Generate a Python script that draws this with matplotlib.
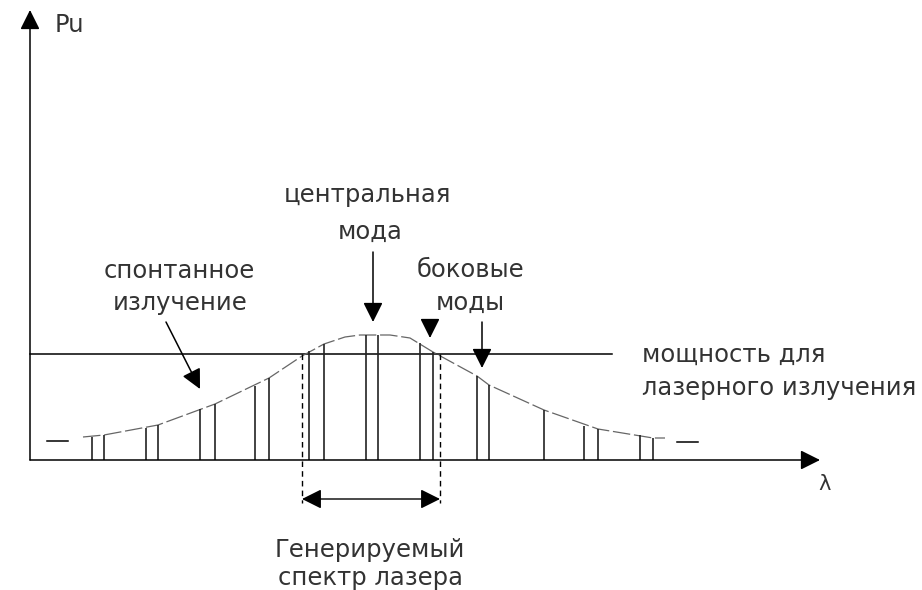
import matplotlib.pyplot as plt

# mode lines: wavelength position and height (threshold line is at 106)
mode_lam = [62, 74, 116, 128, 170, 185, 225, 239, 279, 294, 336, 348,
            390, 403, 447, 459, 514, 554, 568, 610, 623]
mode_p = [23, 25, 32, 35, 51, 56, 74, 82, 109, 116, 125, 125,
          117, 108, 84, 75, 50, 34, 31, 25, 22]

# spontaneous emission envelope
env_lam = [53, 74, 128, 185, 239, 272, 294, 315, 330, 360, 380, 403,
           447, 459, 514, 568, 623, 635]
env_p = [23, 25, 35, 56, 82, 104, 116, 123, 125, 125, 122, 108,
         84, 75, 50, 31, 22, 22]

threshold = 106
gen_band = [272, 410]

plt.rcParams['font.family'] = ['DejaVu Sans']
fs = 17.5
tc = '#333'

fig = plt.figure(figsize=(9.22, 5.9), dpi=100)
ax = fig.add_axes([0, 0, 1, 1])
ax.set_xlim(-30, 892)
ax.set_ylim(-130, 460)
ax.axis('off')

head = '-|>,head_length=0.6,head_width=0.3'
arr = dict(arrowstyle=head, mutation_scale=20, color='black', lw=1.1,
           shrinkA=0, shrinkB=0)

# axes with arrows
ax.annotate('', xy=(0, 450), xytext=(0, 0), arrowprops=arr)
ax.annotate('', xy=(790, 0), xytext=(0, 0), arrowprops=arr)
ax.text(25, 435, 'Pu', fontsize=fs, color=tc, va='center')
ax.text(795, -24, 'λ', fontsize=15, color=tc, ha='center', va='center')

# lasing threshold
ax.plot([0, 582], [threshold, threshold], color='black', lw=1.1)

# envelope and modes
ax.plot(env_lam, env_p, color='#666', lw=0.9, ls=(0, (14, 3)))
ax.vlines(mode_lam, 0, mode_p, color='#222', lw=1.2)
ax.plot([17, 38], [19, 19], color='black', lw=1.1)
ax.plot([647, 668], [18, 18], color='black', lw=1.1)

# generated spectrum band
for x in gen_band:
    ax.plot([x, x], [threshold, -43], color='black', lw=1, ls=(0, (4, 3)))
ax.annotate('', xy=(gen_band[0], -39), xytext=(gen_band[1], -39),
            arrowprops=dict(arrowstyle='<|-|>,head_length=0.6,head_width=0.3',
                            mutation_scale=20, color='black', lw=1,
                            shrinkA=0, shrinkB=0))
ax.text(340, -90, 'Генерируемый', fontsize=fs, color=tc, ha='center', va='center')
ax.text(340, -118, 'спектр лазера', fontsize=fs, color=tc, ha='center', va='center')

# labels with pointers
ax.text(149, 189, 'спонтанное', fontsize=fs, color=tc, ha='center', va='center')
ax.text(150, 157, 'излучение', fontsize=fs, color=tc, ha='center', va='center')
ax.annotate('', xy=(170, 71), xytext=(136, 138), arrowprops=arr)

ax.text(337, 265, 'центральная', fontsize=fs, color=tc, ha='center', va='center')
ax.text(340, 228, 'мода', fontsize=fs, color=tc, ha='center', va='center')
ax.annotate('', xy=(343, 138), xytext=(343, 208), arrowprops=arr)

ax.text(440, 190, 'боковые', fontsize=fs, color=tc, ha='center', va='center')
ax.text(440, 157, 'моды', fontsize=fs, color=tc, ha='center', va='center')
ax.annotate('', xy=(452, 92), xytext=(452, 138), arrowprops=arr)
ax.annotate('', xy=(400, 122), xytext=(400, 135), arrowprops=arr)

ax.text(612, 105, 'мощность для', fontsize=fs, color=tc, va='center')
ax.text(612, 72, 'лазерного излучения', fontsize=fs, color=tc, va='center')

fig.savefig('out.png', dpi=100)
